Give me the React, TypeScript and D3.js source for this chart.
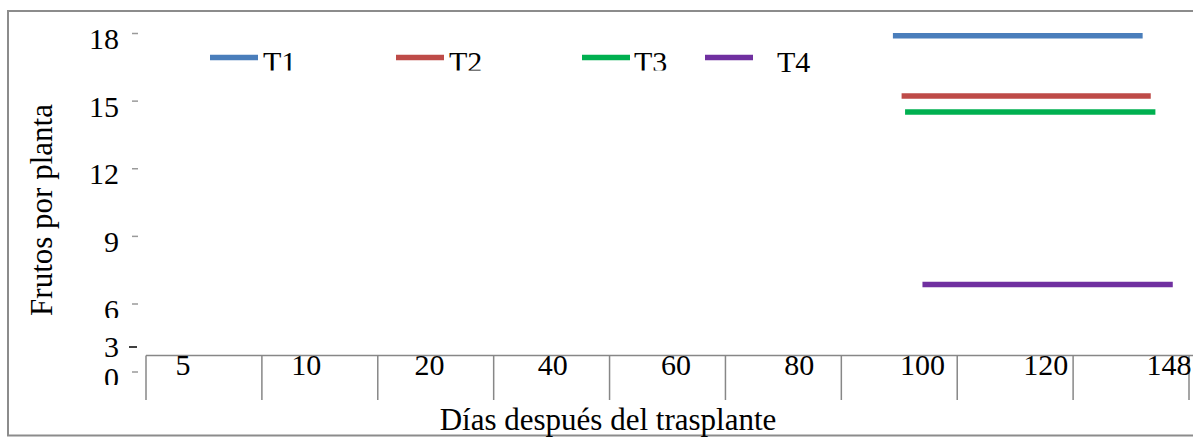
import React from "react";
import * as d3 from "d3";

const categories = ["5", "10", "20", "40", "60", "80", "100", "120", "148"];
const yTicks = [0, 3, 6, 9, 12, 15, 18];
const seriesNames = ["T1", "T2", "T3", "T4"];
const seriesColors = ["#4a7ebb", "#be4b48", "#00b050", "#7030a0"];
// value (frutos por planta) and the span along the category axis (in category units)
const seriesValues = [17.9, 15.23, 14.52, 6.86];
const seriesStart = [6.445, 6.52, 6.55, 6.7];
const seriesEnd = [8.6, 8.67, 8.71, 8.86];

const W = 1193;
const H = 437;
const FONT = "Liberation Serif";
const AXIS_GRAY = "#878787";
const txt: React.CSSProperties = { fontFamily: FONT };

export default function App() {
  const y = d3.scaleLinear().domain([0, 3, 6, 18]).range([372, 347, 304, 33.5]);
  const band = d3.scaleBand().domain(categories).range([146, 1189]).paddingInner(0).paddingOuter(0);
  const labelX = d3.scalePoint().domain(categories).range([183, 1169]);
  const xPos = d3.scaleLinear().domain([0, categories.length]).range([146, 1189]);
  const axisY = 355.5;

  const legendLineX = [210, 396, 582, 705];
  const legendTextX = [263, 449, 634, 777];
  // the reference's text boxes cut some glyphs at the bottom
  const yLabelClip: Record<number, number> = { 6: 318, 0: 385 };

  const lineGen = d3
    .line<[number, number]>()
    .x((d) => xPos(d[0]))
    .y((d) => y(d[1]));

  return (
    <svg
      width={W}
      height={H}
      style={{ position: "absolute", left: 0, top: 0, background: "#fff", fontFamily: FONT }}
    >
      <defs>
        <clipPath id="clipLegend">
          <rect x={0} y={0} width={700} height={70.5} />
        </clipPath>
        <clipPath id="clip6">
          <rect x={0} y={0} width={W} height={yLabelClip[6]} />
        </clipPath>
        <clipPath id="clip0">
          <rect x={0} y={0} width={W} height={yLabelClip[0]} />
        </clipPath>
      </defs>
      <rect x={0} y={0} width={W} height={H} fill="#fff" />
      <path d={`M ${W + 5} 11 H 8 V 435.5 H ${W + 5}`} fill="none" stroke="#8c8c8c" strokeWidth={2} />

      {yTicks.map((t) => (
        <g key={t}>
          <line
            x1={t === 3 ? 129 : 132}
            x2={t === 3 ? 137 : 138}
            y1={y(t)}
            y2={y(t)}
            stroke={t === 3 ? "#000" : "#9a9a9a"}
            strokeWidth={1.5}
          />
          <text
            x={119}
            y={y(t) + (t === 3 ? 10 : 15.5)}
            textAnchor="end"
            fontSize={30}
            fill="#000"
            style={txt}
            clipPath={t === 6 ? "url(#clip6)" : t === 0 ? "url(#clip0)" : undefined}
          >
            {t}
          </text>
        </g>
      ))}

      <text
        transform={`translate(52,210) rotate(-90)`}
        textAnchor="middle"
        fontSize={31}
        fill="#000"
        style={txt}
      >
        Frutos por planta
      </text>

      <line x1={146} x2={W + 5} y1={axisY} y2={axisY} stroke={AXIS_GRAY} strokeWidth={1.5} />
      {categories.map((c) => (
        <line
          key={"d" + c}
          x1={band(c)!}
          x2={band(c)!}
          y1={axisY}
          y2={400}
          stroke={AXIS_GRAY}
          strokeWidth={1.5}
        />
      ))}
      <line
        x1={band(categories[categories.length - 1])! + band.bandwidth()}
        x2={band(categories[categories.length - 1])! + band.bandwidth()}
        y1={axisY}
        y2={400}
        stroke={AXIS_GRAY}
        strokeWidth={1.5}
      />
      {categories.map((c) => (
        <text key={"l" + c} x={labelX(c)!} y={375} textAnchor="middle" fontSize={30} fill="#000" style={txt}>
          {c}
        </text>
      ))}
      <text x={608} y={430} textAnchor="middle" fontSize={31} fill="#000" style={txt}>
        Días después del trasplante
      </text>

      {seriesNames.map((n, i) => (
        <path
          key={"s" + n}
          d={lineGen([
            [seriesStart[i], seriesValues[i]],
            [seriesEnd[i], seriesValues[i]],
          ])!}
          fill="none"
          stroke={seriesColors[i]}
          strokeWidth={5.5}
        />
      ))}

      {seriesNames.map((n, i) => (
        <g key={"lg" + n}>
          <line
            x1={legendLineX[i]}
            x2={legendLineX[i] + 48}
            y1={57.5}
            y2={57.5}
            stroke={seriesColors[i]}
            strokeWidth={5.5}
          />
          <text
            x={legendTextX[i]}
            y={72}
            fontSize={30}
            fill="#000"
            style={txt}
            clipPath={i < 3 ? "url(#clipLegend)" : undefined}
          >
            {n}
          </text>
        </g>
      ))}
    </svg>
  );
}
